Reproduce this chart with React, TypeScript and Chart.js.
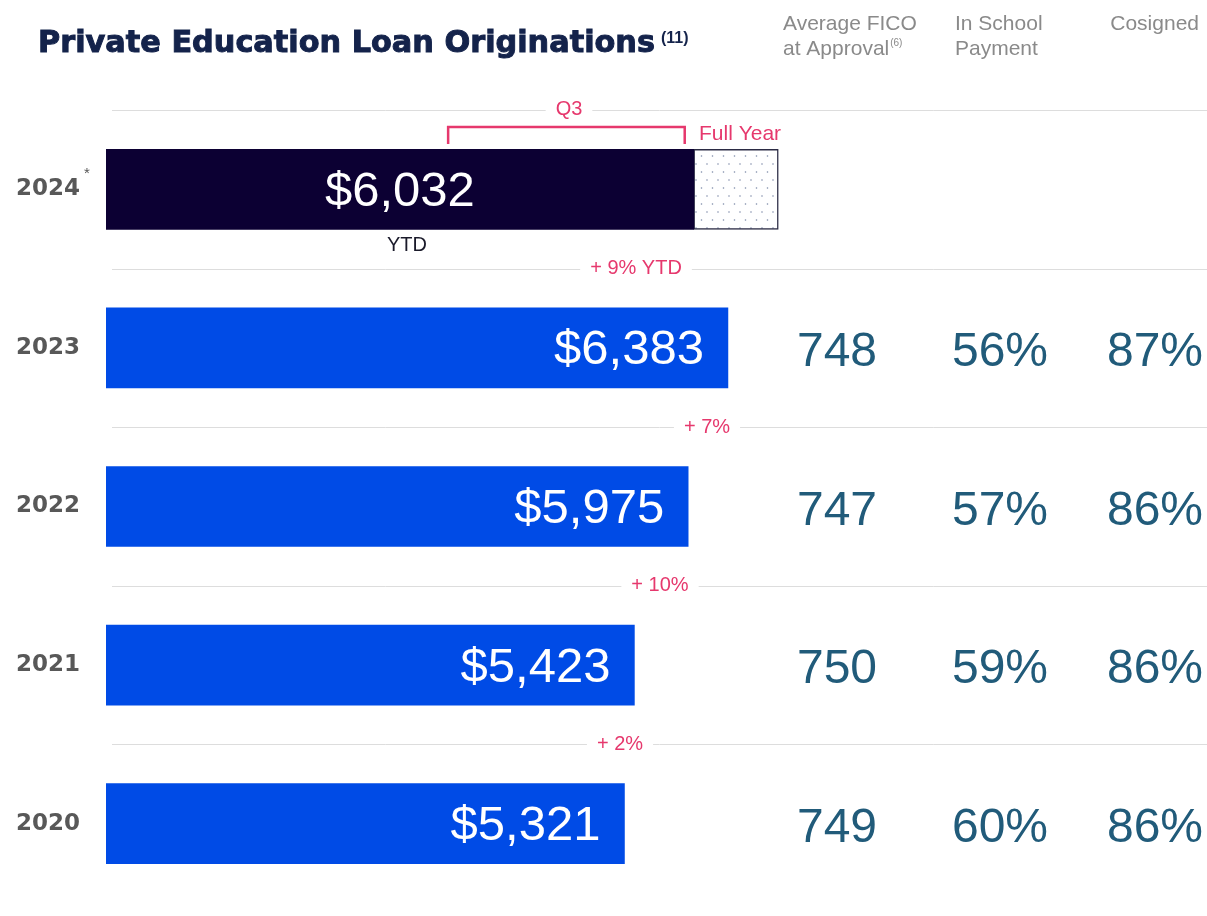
import React, { useEffect, useRef } from "react";
import { Chart, registerables } from "chart.js";

Chart.register(...registerables);

const years = ["2024", "2023", "2022", "2021", "2020"];
const originations = [6032, 6383, 5975, 5423, 5321];
const fullYearRemainder = [868, 0, 0, 0, 0];
const barLabels = ["$6,032", "$6,383", "$5,975", "$5,423", "$5,321"];
const growthLabels = ["+ 9% YTD", "+ 7%", "+ 10%", "+ 2%"];
const ficoScores = [null, "748", "747", "750", "749"];
const inSchoolPayment = [null, "56%", "57%", "59%", "60%"];
const cosigned = [null, "87%", "86%", "86%", "86%"];
const q3Range = [3532, 6032];

const FONT = "'Liberation Sans', Arial, sans-serif";
const HEAVY = "'DejaVu Sans', 'Liberation Sans', sans-serif";
const PINK = "#e6386d";
const BLUE = "#004be6";
const NAVY = "#0c0033";
const STAT = "#215b7a";
const HEAD = "#8a8a8a";

function makePattern(): CanvasPattern | string {
  const c = document.createElement("canvas");
  c.width = 11;
  c.height = 16;
  const g = c.getContext("2d");
  if (!g) return "#ffffff";
  g.fillStyle = "#ffffff";
  g.fillRect(0, 0, 11, 16);
  g.fillStyle = "#7d8aa8";
  g.beginPath();
  g.arc(3, 4, 0.8, 0, Math.PI * 2);
  g.arc(8.5, 12, 0.8, 0, Math.PI * 2);
  g.fill();
  const p = g.createPattern(c, "repeat");
  return p || "#ffffff";
}

const decorPlugin = {
  id: "decor",
  beforeDatasetsDraw(chart: any) {
    const ctx = chart.ctx;
    const y = chart.scales.y;
    const x = chart.scales.x;
    const step = y.getPixelForValue(1) - y.getPixelForValue(0);
    ctx.save();
    ctx.strokeStyle = "#dddddd";
    ctx.lineWidth = 1;
    for (let i = 0; i < years.length; i++) {
      const yy = Math.round(y.getPixelForValue(i) - step / 2) + 0.5;
      ctx.beginPath();
      ctx.moveTo(112, yy);
      ctx.lineTo(1207, yy);
      ctx.stroke();
    }
    // label gaps on lines
    ctx.font = `20px ${FONT}`;
    ctx.textAlign = "center";
    ctx.textBaseline = "middle";
    const growthX = [636, 707, 660, 620];
    const drawGap = (text: string, cx: number, cy: number) => {
      const w = ctx.measureText(text).width;
      ctx.fillStyle = "#ffffff";
      ctx.fillRect(cx - w / 2 - 10, cy - 11, w + 20, 22);
      ctx.fillStyle = PINK;
      ctx.fillText(text, cx, cy);
    };
    const topLine = y.getPixelForValue(0) - step / 2;
    drawGap("Q3", 569, topLine - 1);
    for (let i = 0; i < growthLabels.length; i++) {
      const yy = y.getPixelForValue(i + 1) - step / 2;
      drawGap(growthLabels[i], growthX[i], yy);
    }
    // Q3 bracket
    const bx0 = x.getPixelForValue(q3Range[0]) - 2;
    const bx1 = x.getPixelForValue(q3Range[1]) - 9;
    ctx.strokeStyle = PINK;
    ctx.lineWidth = 2.5;
    ctx.beginPath();
    ctx.moveTo(bx0, 144);
    ctx.lineTo(bx0, 127);
    ctx.lineTo(bx1, 127);
    ctx.lineTo(bx1, 144);
    ctx.stroke();
    ctx.font = `21px ${FONT}`;
    ctx.textAlign = "left";
    ctx.fillStyle = PINK;
    ctx.fillText("Full Year", 699, 134);
    ctx.restore();
  },
  afterDatasetsDraw(chart: any) {
    const ctx = chart.ctx;
    const y = chart.scales.y;
    const x = chart.scales.x;
    ctx.save();
    ctx.textBaseline = "middle";
    ctx.font = `49px ${FONT}`;
    ctx.fillStyle = "#ffffff";
    for (let i = 0; i < years.length; i++) {
      const cy = y.getPixelForValue(i) + 3;
      const end = x.getPixelForValue(originations[i]);
      if (i === 0) {
        ctx.textAlign = "center";
        ctx.fillText(barLabels[i], (x.getPixelForValue(0) + end) / 2, cy);
      } else {
        ctx.textAlign = "right";
        ctx.fillText(barLabels[i], end - 24, cy);
      }
    }
    // stats columns
    ctx.font = `48px ${FONT}`;
    ctx.fillStyle = STAT;
    ctx.textAlign = "center";
    for (let i = 0; i < years.length; i++) {
      const cy = y.getPixelForValue(i) + 5;
      if (ficoScores[i]) ctx.fillText(ficoScores[i] as string, 837, cy);
      if (inSchoolPayment[i]) ctx.fillText(inSchoolPayment[i] as string, 1000, cy);
      if (cosigned[i]) ctx.fillText(cosigned[i] as string, 1155, cy);
    }
    // YTD label
    ctx.font = `20px ${FONT}`;
    ctx.fillStyle = "#1a1a2a";
    ctx.fillText("YTD", 407, 245);
    // asterisk
    ctx.font = `15px ${FONT}`;
    ctx.fillStyle = "#555555";
    ctx.textAlign = "left";
    ctx.fillText("*", 84, 174);
    ctx.restore();
  },
  afterDraw(chart: any) {
    const ctx = chart.ctx;
    ctx.save();
    // Title
    ctx.textBaseline = "alphabetic";
    ctx.textAlign = "left";
    ctx.fillStyle = "#14234b";
    ctx.strokeStyle = "#14234b";
    ctx.font = `bold 31px ${HEAVY}`;
    const title = "Private Education Loan Originations";
    const tw = ctx.measureText(title).width;
    const sx = 617 / tw;
    ctx.save();
    ctx.translate(38, 52);
    ctx.scale(sx, 1);
    ctx.lineWidth = 1;
    ctx.fillText(title, 0, 0);
    ctx.strokeText(title, 0, 0);
    ctx.restore();
    ctx.font = `bold 16px ${FONT}`;
    ctx.fillText("(11)", 661, 43);
    // Headers
    ctx.fillStyle = HEAD;
    ctx.font = `21px ${FONT}`;
    ctx.fillText("Average FICO", 783, 30);
    ctx.fillText("at Approval", 783, 55);
    const aw = ctx.measureText("at Approval").width;
    ctx.fillText("In School", 955, 30);
    ctx.fillText("Payment", 955, 55);
    ctx.textAlign = "right";
    ctx.fillText("Cosigned", 1199, 30);
    ctx.textAlign = "left";
    ctx.font = `10px ${FONT}`;
    ctx.fillText("(6)", 783 + aw + 1, 46);
    ctx.restore();
  },
};

export default function App() {
  const ref = useRef<HTMLCanvasElement | null>(null);
  useEffect(() => {
    if (!ref.current) return;
    const pattern = makePattern();
    const chart = new Chart(ref.current, {
      type: "bar",
      data: {
        labels: years,
        datasets: [
          {
            label: "Originations",
            data: originations,
            backgroundColor: [NAVY, BLUE, BLUE, BLUE, BLUE],
            borderWidth: 0,
            barThickness: 80,
          },
          {
            label: "Full Year",
            data: fullYearRemainder,
            backgroundColor: pattern as any,
            borderColor: "#2b2b44",
            borderWidth: 1.5,
            borderSkipped: false,
            barThickness: 80,
          },
        ],
      },
      plugins: [decorPlugin],
      options: {
        indexAxis: "y",
        responsive: false,
        animation: false,
        devicePixelRatio: 1,
        layout: { padding: { top: 110, bottom: 13, left: 0, right: 0 } },
        plugins: {
          legend: { display: false },
          tooltip: { enabled: false },
          title: { display: false },
        },
        scales: {
          x: { display: false, min: 0, max: 11300, stacked: true },
          y: {
            stacked: true,
            grid: { display: false, drawTicks: false },
            border: { display: false },
            ticks: {
              padding: 26,
              color: "#585858",
              font: { family: HEAVY, weight: "bold", size: 23 },
            },
            afterFit: (s: any) => {
              s.width = 106;
              s.paddingTop = 0;
              s.paddingBottom = 0;
            },
          },
        },
      } as any,
    });
    return () => chart.destroy();
  }, []);
  return (
    <div style={{ position: "fixed", left: 0, top: 0, width: 1207, height: 916, background: "#fff" }}>
      <canvas ref={ref} width={1207} height={916} style={{ display: "block" }} />
    </div>
  );
}
